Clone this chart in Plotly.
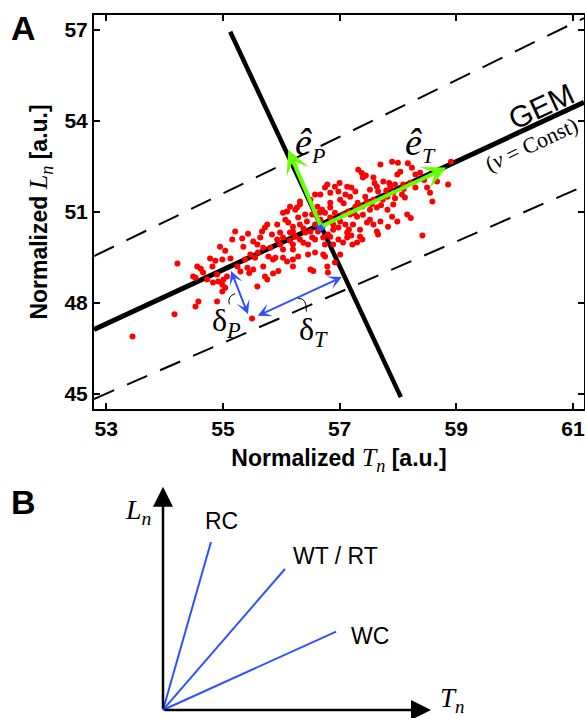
import plotly.graph_objects as go

# ---------------- Panel A data ----------------
tn = [53.45, 54.17, 54.22, 54.49, 54.53, 54.58, 54.56, 54.62, 54.66, 54.53, 54.73, 54.78, 54.82, 54.83, 54.87,
      54.90, 54.90, 54.95, 54.92, 54.99, 54.99, 55.01, 54.99, 55.04, 55.04, 55.07, 55.13, 55.16, 55.21, 55.25,
      55.30, 55.33, 55.35, 55.42, 55.45, 55.43, 55.50, 55.52, 55.52, 55.59, 55.59, 55.55, 55.60, 55.69, 55.69,
      55.72, 55.72, 55.76, 55.78, 55.76, 55.86, 55.86, 55.90, 55.95, 55.93, 55.98, 55.98, 56.03, 56.03, 56.03,
      56.07, 56.10, 56.10, 56.12, 56.15, 56.15, 56.20, 56.20, 56.20, 56.20, 56.20, 56.24, 56.24, 56.27, 56.32,
      56.32, 56.32, 56.32, 56.38, 56.41, 56.44, 56.46, 56.50, 56.50, 56.50, 56.53, 56.58, 56.58, 56.62, 56.66,
      56.72, 56.75, 56.75, 56.75, 56.79, 56.79, 56.80, 56.84, 56.84, 56.84, 56.89, 56.89, 56.92, 56.92, 56.92,
      57.00, 56.98, 56.98, 57.01, 57.07, 57.13, 57.13, 57.13, 57.15, 57.16, 57.18, 57.20, 57.23, 57.27, 57.31,
      57.30, 57.32, 57.35, 57.38, 57.39, 57.40, 57.45, 57.44, 57.47, 57.47, 57.52, 57.52, 57.52, 57.58, 57.58,
      57.58, 57.64, 57.64, 57.64, 57.66, 57.70, 57.71, 57.70, 57.74, 57.75, 57.82, 57.82, 57.83, 57.87, 57.90,
      57.90, 57.92, 57.92, 57.95, 57.99, 57.99, 58.00, 58.04, 58.07, 58.09, 58.12, 58.16, 58.17, 58.21, 58.24,
      58.22, 58.30, 58.38, 58.42, 58.55, 58.59, 58.67, 58.86, 58.91, 56.15, 56.20, 56.29, 56.55, 56.72, 56.89,
      56.75, 56.03, 57.30, 57.35, 57.66, 57.01, 57.06, 56.41, 56.58, 56.63, 56.67, 56.70, 56.80, 56.84, 56.98,
      57.01, 57.06, 57.10, 56.38, 56.29, 56.46, 56.53, 57.18, 57.22, 57.27, 57.10, 56.67, 56.58, 55.67, 55.84,
      55.93, 55.81, 55.64, 55.47, 55.38, 57.39, 56.84, 57.55, 57.80, 57.25, 57.95, 58.10, 57.40, 57.85, 58.30,
      58.45, 58.50, 57.60, 57.20]
ln = [46.89, 47.62, 49.30, 48.87, 47.88, 48.04, 49.20, 49.12, 49.00, 48.83, 48.77, 49.46, 49.20, 48.67, 49.39,
      48.93, 48.04, 49.85, 48.70, 48.60, 48.37, 48.77, 49.43, 49.72, 48.50, 48.87, 49.46, 50.09, 50.35, 49.20,
      49.03, 50.12, 49.85, 49.16, 48.98, 50.28, 47.48, 50.02, 49.10, 49.92, 48.54, 49.49, 49.66, 49.82, 49.20,
      48.87, 50.48, 48.77, 49.53, 50.58, 49.43, 48.97, 49.49, 49.05, 50.58, 49.92, 50.32, 49.49, 50.97, 50.15,
      50.74, 49.36, 51.01, 50.65, 51.17, 50.05, 49.76, 49.43, 49.20, 50.51, 50.35, 50.18, 51.07, 51.14, 51.34,
      51.24, 50.58, 50.09, 49.98, 50.32, 50.68, 49.59, 51.40, 50.35, 49.10, 50.91, 50.09, 49.66, 51.17, 50.98,
      50.15, 51.80, 50.97, 49.53, 51.90, 49.20, 49.00, 51.63, 51.30, 51.14, 50.58, 50.41, 51.83, 50.97, 49.33,
      51.95, 51.67, 50.48, 51.40, 51.28, 51.83, 50.32, 50.15, 51.01, 50.42, 51.50, 50.22, 50.58, 51.17, 51.30,
      50.84, 52.39, 50.41, 52.28, 51.18, 52.13, 52.20, 51.50, 51.34, 50.65, 51.73, 51.07, 50.74, 52.13, 51.40,
      50.58, 51.83, 51.14, 50.35, 51.67, 52.56, 51.22, 50.68, 51.40, 52.00, 51.50, 51.07, 50.51, 51.83, 52.65,
      50.84, 51.63, 51.24, 51.90, 52.23, 50.68, 52.62, 52.32, 51.57, 51.90, 51.47, 50.91, 52.60, 51.96, 52.45,
      50.80, 52.23, 52.29, 50.22, 51.63, 51.34, 52.00, 51.90, 52.65, 50.32, 49.92, 49.53, 49.05, 49.59, 49.92,
      49.92, 49.76, 49.99, 50.18, 50.25, 49.59, 49.99, 50.91, 50.58, 50.35, 50.74, 51.07, 50.25, 50.81, 50.09,
      50.68, 50.91, 50.58, 50.45, 50.81, 49.92, 50.15, 50.91, 49.92, 51.67, 51.57, 51.57, 51.57, 50.35, 50.25,
      50.09, 49.82, 50.15, 49.59, 49.43, 50.09, 50.18, 51.25, 51.70, 50.95, 51.45, 51.75, 50.90, 51.95, 51.80,
      52.05, 51.80, 51.95, 51.80]

center_T = [56.68]
center_L = [50.52]

gem_T = [52.79, 61.19]
gem_L = [47.12, 54.61]
upper_T = [52.79, 61.19]
upper_L = [49.54, 57.39]
lower_T = [52.79, 61.19]
lower_L = [44.83, 51.85]
perp_T = [55.125, 58.05]
perp_L = [56.94, 44.89]

eP_tip = (56.12, 53.05)
eT_tip = (58.83, 52.46)
dP_ends = [(55.13, 49.10), (55.43, 47.62)]
dT_ends = [(55.57, 47.55), (57.04, 48.85)]

x_ticks = [53, 55, 57, 59, 61]
y_ticks = [45, 48, 51, 54, 57]

# ---------------- Panel B data ----------------
b_names = ["RC", "WT / RT", "WC"]
b_end_T = [0.179, 0.455, 0.646]
b_end_L = [0.757, 0.635, 0.353]
b_label_T = [0.220, 0.642, 0.772]
b_label_L = [0.851, 0.694, 0.333]

SANS = "Liberation Sans"
SERIF = "Liberation Serif"
RED = "#FF0000"
GREEN = "#66FF00"
BLUE = "#2F50FF"

fig = go.Figure()

# dashed bounds
for xs, ys in [(upper_T, upper_L), (lower_T, lower_L)]:
    fig.add_trace(go.Scatter(x=xs, y=ys, mode="lines",
                             line=dict(color="black", width=2, dash="22px,14px"),
                             hoverinfo="skip", showlegend=False))
# GEM line
fig.add_trace(go.Scatter(x=gem_T, y=gem_L, mode="lines",
                         line=dict(color="black", width=5), showlegend=False))
# perpendicular line
fig.add_trace(go.Scatter(x=perp_T, y=perp_L, mode="lines",
                         line=dict(color="black", width=4.5), showlegend=False))
# data points
fig.add_trace(go.Scatter(x=tn, y=ln, mode="markers",
                         marker=dict(color=RED, size=6, line=dict(width=0)), showlegend=False))
# center point
fig.add_trace(go.Scatter(x=center_T, y=center_L, mode="markers",
                         marker=dict(color=BLUE, size=9, line=dict(width=0)), showlegend=False))

# panel B lines
for t, l in zip(b_end_T, b_end_L):
    fig.add_trace(go.Scatter(x=[0, t], y=[0, l], mode="lines", xaxis="x2", yaxis="y2",
                             line=dict(color=BLUE, width=2), showlegend=False))

ann = []
# green unit vectors
for tip in (eP_tip, eT_tip):
    ann.append(dict(x=tip[0], y=tip[1], ax=center_T[0], ay=center_L[0], xref="x", yref="y",
                    axref="x", ayref="y", text="", showarrow=True, arrowhead=3, arrowsize=1.0,
                    arrowwidth=4, arrowcolor=GREEN))
# blue double arrows
for a, b in (dP_ends, dT_ends):
    ann.append(dict(x=b[0], y=b[1], ax=a[0], ay=a[1], xref="x", yref="y", axref="x", ayref="y",
                    text="", showarrow=True, arrowhead=3, startarrowhead=3, arrowside="end+start",
                    arrowsize=1.15, startarrowsize=1.15, arrowwidth=2, arrowcolor=BLUE))

serif_span = "<span style='font-family:%s;font-weight:normal;font-size:26px'>" % SERIF
ann += [
    dict(x=56.50, y=53.21, xref="x", yref="y", showarrow=False,
         text="<i>ê</i><sub><i><span style='font-size:22px'>P</span></i></sub>",
         font=dict(family=SERIF, size=38, color="black")),
    dict(x=58.38, y=53.21, xref="x", yref="y", showarrow=False,
         text="<i>ê</i><sub><i><span style='font-size:22px'>T</span></i></sub>",
         font=dict(family=SERIF, size=38, color="black")),
    dict(x=55.06, y=47.35, xref="x", yref="y", showarrow=False,
         text="δ<sub><i>P</i></sub>", font=dict(family=SERIF, size=32, color="black")),
    dict(x=56.55, y=47.06, xref="x", yref="y", showarrow=False,
         text="δ<sub><i>T</i></sub>", font=dict(family=SERIF, size=32, color="black")),
    dict(x=60.45, y=54.48, xref="x", yref="y", showarrow=False, text="GEM", textangle=-25,
         font=dict(family=SANS, size=30, color="black")),
    dict(x=60.29, y=53.22, xref="x", yref="y", showarrow=False, text="(<i>ν</i> = Const)",
         textangle=-25, font=dict(family=SERIF, size=22, color="black")),
    dict(x=0.041, y=0.961, xref="paper", yref="paper", showarrow=False, text="<b>A</b>",
         xanchor="center", yanchor="middle", font=dict(family=SANS, size=34, color="black")),
    dict(x=0.041, y=0.3008, xref="paper", yref="paper", showarrow=False, text="<b>B</b>",
         xanchor="center", yanchor="middle", font=dict(family=SANS, size=34, color="black")),
]

# panel B axes arrows
for tip in ((1.0, 0.0), (0.0, 1.005)):
    ann.append(dict(x=tip[0], y=tip[1], ax=0, ay=0, xref="x2", yref="y2", axref="x2", ayref="y2",
                    text="", showarrow=True, arrowhead=2, arrowsize=1.6, arrowwidth=2.5,
                    arrowcolor="black"))
ann.append(dict(x=-0.093, y=0.892, xref="x2", yref="y2", showarrow=False,
                xanchor="center", yanchor="middle",
                text="<i>L</i><sub><i>n</i></sub>", font=dict(family=SERIF, size=28, color="black")))
ann.append(dict(x=1.078, y=0.045, xref="x2", yref="y2", showarrow=False,
                xanchor="center", yanchor="middle",
                text="<i>T</i><sub><i>n</i></sub>", font=dict(family=SERIF, size=27, color="black")))
for name, t, l in zip(b_names, b_label_T, b_label_L):
    ann.append(dict(x=t, y=l, xref="x2", yref="y2", showarrow=False, text=name,
                    xanchor="center", yanchor="middle",
                    font=dict(family=SANS, size=23, color="black")))

shapes = [
    dict(type="path", xref="x", yref="y", path="M 55.21,48.31 Q 55.07,48.21 55.11,47.95",
         line=dict(color="black", width=1)),
    dict(type="path", xref="x", yref="y", path="M 56.29,48.14 Q 56.44,48.18 56.43,47.71",
         line=dict(color="black", width=1)),
]

axis_common = dict(showline=True, linecolor="black", linewidth=2, mirror="ticks",
                   ticks="inside", ticklen=6, tickwidth=1.5, tickcolor="black",
                   showgrid=False, zeroline=False,
                   tickfont=dict(family=SANS, size=21, color="black", weight="bold"))

fig.update_layout(
    width=585, height=718,
    margin=dict(l=0, r=0, t=0, b=0),
    paper_bgcolor="white", plot_bgcolor="white",
    showlegend=False,
    xaxis=dict(domain=[0.1607, 0.9983], range=[52.79, 61.19], tickvals=x_ticks,
               title=dict(text="Normalized " + serif_span + "<i>T</i><sub><i>n</i></sub></span> [a.u.]",
                          font=dict(family=SANS, size=23, color="black", weight="bold"), standoff=11),
               **axis_common),
    yaxis=dict(domain=[0.4304, 0.9791], range=[44.5, 57.49], tickvals=y_ticks,
               title=dict(text="Normalized " + serif_span + "<i>L</i><sub><i>n</i></sub></span> [a.u.]",
                          font=dict(family=SANS, size=23, color="black", weight="bold"), standoff=10),
               **axis_common),
    # panel B: T_n from 0 (origin) to 1 (arrow tip) inside a slightly larger range
    xaxis2=dict(domain=[0.1870, 0.8284], range=[-0.2, 1.2], visible=False, anchor="y2"),
    yaxis2=dict(domain=[0.00501, 0.3513], range=[-0.02, 1.1], visible=False, anchor="x2"),
    annotations=ann,
    shapes=shapes,
)

fig.write_html("out.html", config={"displayModeBar": False},
               post_script="document.body.style.margin='0';document.body.style.overflow='hidden';")
